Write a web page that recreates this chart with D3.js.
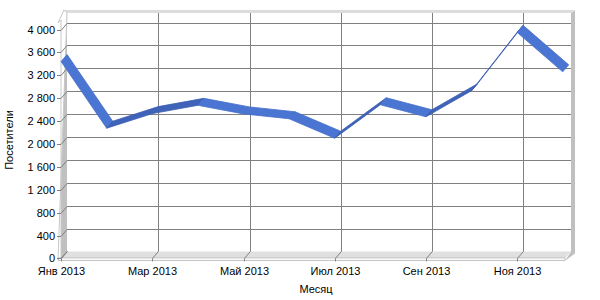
<!DOCTYPE html>
<html>
<head>
<meta charset="utf-8">
<script src="https://cdn.jsdelivr.net/npm/d3@7"></script>
<style>
  body { margin: 0; background: #fff; }
  text { font-family: "Liberation Sans", Arial, sans-serif; font-size: 11px; fill: #000; }
</style>
</head>
<body>
<div id="chart"></div>
<script>
// Visitors per month, 2013
var months = ["Янв 2013", "Фев 2013", "Мар 2013", "Апр 2013", "Май 2013", "Июн 2013",
              "Июл 2013", "Авг 2013", "Сен 2013", "Окт 2013", "Ноя 2013", "Дек 2013"];
var visitors = [3440, 2275, 2530, 2675, 2525, 2440, 2100, 2685, 2475, 2930, 3950, 3260];
var yTicks = [0, 400, 800, 1200, 1600, 2000, 2400, 2800, 3200, 3600, 4000];

var svgWidth = 600;
var svgHeight = 300;

// front face of the 3D box and the depth shift to the back wall
var front = { left: 61, right: 565, bottom: 258.4, top: 20 };
var depth = { dx: 6, dy: -7 };

var svg = d3.select("#chart")
  .append("svg")
  .attr("width", svgWidth)
  .attr("height", svgHeight);

var xScale = d3.scaleLinear()
  .domain([0, months.length - 1])
  .range([front.left + 0.1, front.right - 2.3]);

var yScale = d3.scaleLinear()
  .domain([0, 4000])
  .range([front.bottom, 29.5]);

var ru = d3.formatLocale({ decimal: ",", thousands: " ", grouping: [3], currency: ["", ""] });
var fmt = ru.format(",d");

var bx = function(x) { return x + depth.dx; };
var by = function(y) { return y + depth.dy; };
var poly = function(pts) { return pts.map(p => p.join(",")).join(" "); };

var backTop = 13;

// back wall
svg.append("rect")
  .attr("x", bx(front.left))
  .attr("y", backTop)
  .attr("width", front.right - front.left)
  .attr("height", by(front.bottom) - backTop)
  .attr("fill", "#fff");

// back wall thickness: top face and right side
svg.append("polygon")
  .attr("points", poly([[bx(front.left) - 3, backTop - 3], [bx(front.right) + 3, backTop - 3],
                        [bx(front.right), backTop], [bx(front.left), backTop]]))
  .attr("fill", "#dcdcdc");
svg.append("polygon")
  .attr("points", poly([[bx(front.right), backTop], [bx(front.right) + 4, backTop - 3],
                        [bx(front.right) + 4, by(front.bottom) + 2], [front.right, front.bottom + 2.5],
                        [bx(front.right), by(front.bottom)]]))
  .attr("fill", "#c0c0c0");

// left wall
svg.append("polygon")
  .attr("points", poly([[front.left, front.bottom], [bx(front.left), by(front.bottom)],
                        [bx(front.left), backTop], [front.left, backTop - depth.dy]]))
  .attr("fill", "#c0c0c0");
svg.append("polygon")
  .attr("points", poly([[front.left - 3, front.bottom + 2], [front.left, front.bottom],
                        [front.left, backTop - depth.dy], [front.left - 3, backTop - depth.dy + 3],
                        [bx(front.left) - 3, backTop - 3], [bx(front.left), backTop]]))
  .attr("fill", "#fff")
  .attr("stroke", "#c8c8c8")
  .attr("stroke-width", 1);

// floor: top face and front edge
svg.append("polygon")
  .attr("points", poly([[front.left, front.bottom], [front.right, front.bottom],
                        [bx(front.right), by(front.bottom)], [bx(front.left), by(front.bottom)]]))
  .attr("fill", "#e0e0e0");
svg.append("rect")
  .attr("x", front.left - 2.5)
  .attr("y", front.bottom - 0.5)
  .attr("width", front.right - front.left + 2.5)
  .attr("height", 2.5)
  .attr("fill", "#fff")
  .attr("stroke", "#c0c0c0");

// horizontal grid on back wall + ticks across left wall
yTicks.forEach(function(t) {
  var y = Math.round(yScale(t)) + 0.5;
  if (t > 0) {
    svg.append("line")
      .attr("x1", bx(front.left)).attr("x2", bx(front.right))
      .attr("y1", by(y)).attr("y2", by(y))
      .attr("stroke", "#808080");
  }
  svg.append("line")
    .attr("x1", front.left).attr("y1", y)
    .attr("x2", bx(front.left)).attr("y2", by(y))
    .attr("stroke", "#808080");
  svg.append("line")
    .attr("x1", front.left - 4).attr("x2", front.left)
    .attr("y1", y).attr("y2", y)
    .attr("stroke", "#808080");
  svg.append("text")
    .attr("x", 55)
    .attr("y", y)
    .attr("dy", "0.36em")
    .attr("text-anchor", "end")
    .text(fmt(t));
});

// vertical grid on back wall + ticks across the floor
months.forEach(function(m, i) {
  if (i % 2 !== 0) return;
  var x = Math.round(xScale(i)) + 0.5;
  if (i > 0) {
    svg.append("line")
      .attr("x1", bx(x)).attr("x2", bx(x))
      .attr("y1", backTop).attr("y2", by(front.bottom))
      .attr("stroke", "#808080");
  }
  svg.append("line")
    .attr("x1", x).attr("y1", front.bottom)
    .attr("x2", bx(x)).attr("y2", by(front.bottom))
    .attr("stroke", "#808080");
  svg.append("line")
    .attr("x1", x).attr("x2", x)
    .attr("y1", front.bottom).attr("y2", front.bottom + 3)
    .attr("stroke", "#808080");
  svg.append("text")
    .attr("x", x)
    .attr("y", 275)
    .attr("text-anchor", "middle")
    .text(m);
});

// 3D ribbon, one quad per segment from the front line to the back line
var segs = d3.range(visitors.length - 1);
svg.append("g")
  .selectAll("polygon")
  .data(segs)
  .enter()
  .append("polygon")
  .attr("points", function(i) {
    var x0 = xScale(i), y0 = yScale(visitors[i]);
    var x1 = xScale(i + 1), y1 = yScale(visitors[i + 1]);
    return poly([[x0, y0], [x1, y1], [bx(x1), by(y1)], [bx(x0), by(y0)]]);
  })
  .attr("fill", i => visitors[i + 1] > visitors[i] ? "#3f63b9" : "#4a75d3")
  .attr("stroke", i => visitors[i + 1] > visitors[i] ? "#3a5cb0" : "#456ec8")
  .attr("stroke-width", 0.8)
  .attr("stroke-linejoin", "round");

// axis titles
svg.append("text")
  .attr("transform", "translate(13, 140) rotate(-90)")
  .attr("text-anchor", "middle")
  .text("Посетители");

svg.append("text")
  .attr("x", 316)
  .attr("y", 293)
  .attr("text-anchor", "middle")
  .text("Месяц");
</script>
</body>
</html>
